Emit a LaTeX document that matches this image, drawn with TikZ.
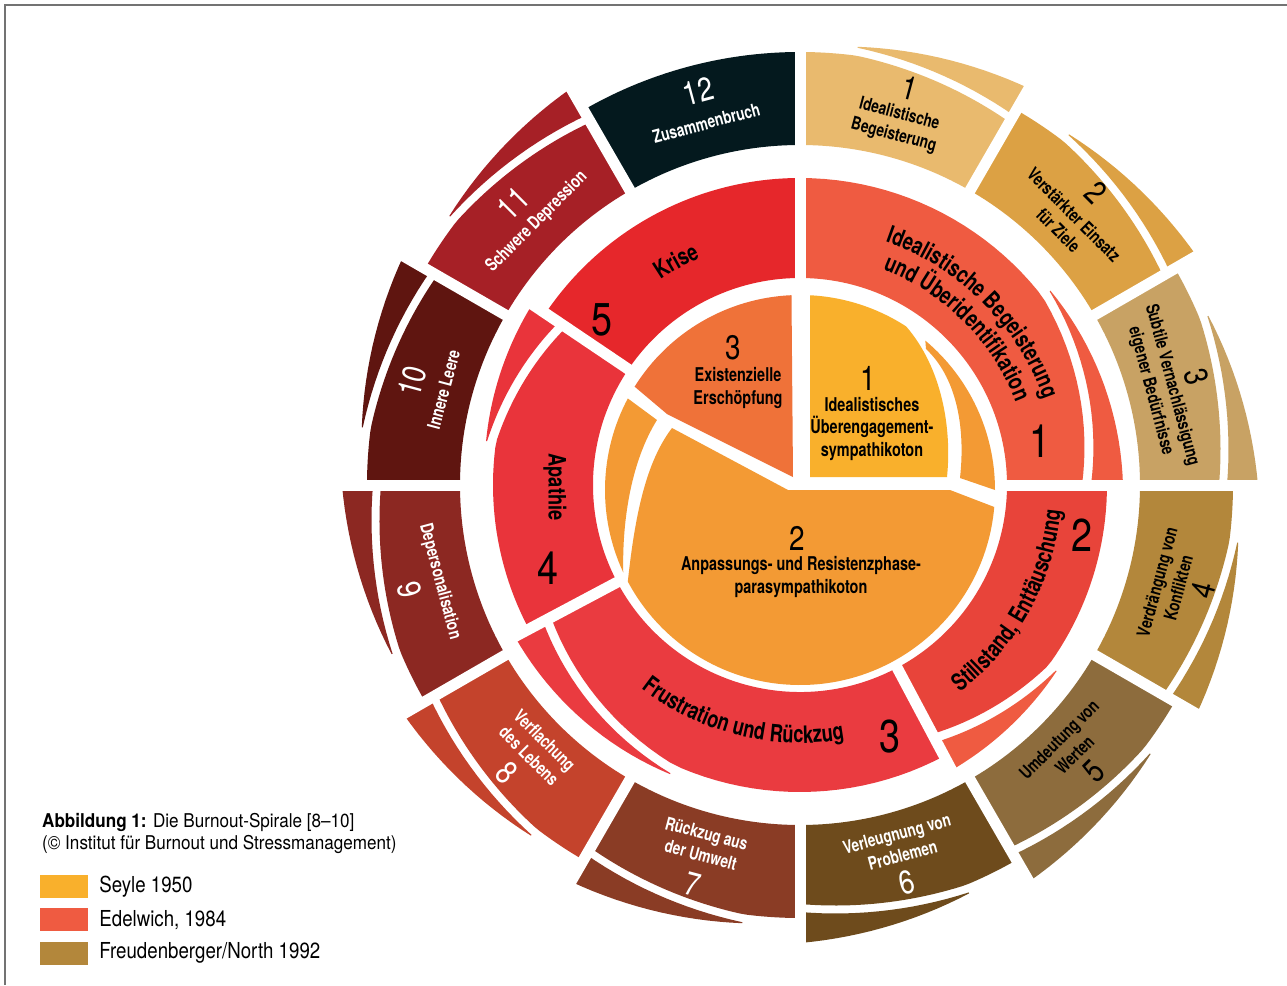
\documentclass[tikz,border=0pt]{standalone}
\usepackage{fontspec}
\setmainfont{TeX Gyre Heros}
\newfontfamily\condfont{TeX Gyre Heros}[FakeStretch=0.76]
\newfontfamily\numfont{TeX Gyre Heros}[FakeStretch=0.82]
\newfontfamily\legfont{TeX Gyre Heros}[FakeStretch=0.85]
\newfontfamily\captfont{TeX Gyre Heros}[FakeStretch=0.9]
\usetikzlibrary{positioning,decorations.text}

% Seyle
\definecolor{seyle1}{HTML}{F9B02C}
\definecolor{seyle2}{HTML}{F39A34}
\definecolor{seyle3}{HTML}{EF7239}
% Edelwich
\definecolor{edel1}{HTML}{EF5B41}
\definecolor{edel2}{HTML}{E8443A}
\definecolor{edel3}{HTML}{EA3B40}
\definecolor{edel4}{HTML}{E9343B}
\definecolor{edel5}{HTML}{E6272B}
% Freudenberger/North
\definecolor{fn1}{HTML}{E9BA6E}
\definecolor{fn2}{HTML}{DCA144}
\definecolor{fn3}{HTML}{C8A264}
\definecolor{fn4}{HTML}{B3873B}
\definecolor{fn5}{HTML}{8D6C3D}
\definecolor{fn6}{HTML}{6E4B1C}
\definecolor{fn7}{HTML}{8A3C25}
\definecolor{fn8}{HTML}{C4432C}
\definecolor{fn9}{HTML}{8C2822}
\definecolor{fn10}{HTML}{5F1510}
\definecolor{fn11}{HTML}{A62026}
\definecolor{fn12}{HTML}{04191E}

\newcommand{\midfont}{\condfont\bfseries\fontsize{24}{24}\selectfont}

\begin{document}
\begin{tikzpicture}[x=1pt,y=1pt,
  segtext/.style={font=\condfont\bfseries\fontsize{18}{22}\selectfont,align=center,inner sep=0pt},
  segnum/.style={font=\numfont\fontsize{33}{33}\selectfont,inner sep=0pt},
  midnum/.style={font=\numfont\fontsize{46}{46}\selectfont,inner sep=0pt},
  midtext/.style={font=\midfont,inner sep=0pt},
  innum/.style={font=\numfont\fontsize{34}{34}\selectfont,inner sep=0pt},
  intext/.style={font=\condfont\bfseries\fontsize{19}{22.5}\selectfont,align=center,inner sep=0pt},
  legsq/.style={minimum width=48pt,minimum height=23pt,inner sep=0pt},
  legtext/.style={font=\legfont\fontsize{22}{22}\selectfont,inner sep=0pt,anchor=west},
  capttext/.style={font=\captfont\fontsize{19}{19}\selectfont,inner sep=0pt,anchor=base west},
  bendtext/.style={decorate,decoration={text along path,text align=center,text={|\midfont|#1}}}]
\newcommand{\outerseg}[3]{% start angle, colour, tail
  \pgfmathsetmacro{\segend}{#1-30}
  \pgfmathsetmacro{\segtail}{#1-7.5}
  \fill[#2] plot[domain=#1:\segend,samples=31]
      (\x:{433-14*#3*max(0,min(1,(\segtail-\x)/22.5))})
    -- (\segend:340) arc[start angle=\segend,end angle=#1,radius=340] -- cycle;
  \ifnum#3=1
  \fill[#2] plot[domain=\segtail:\segend,samples=16] (\x:{441-14*(\segtail-\x)/22.5})
    -- plot[domain=\segend:\segtail,samples=16] (\x:{442+16*(\segtail-\x)/22.5}) -- cycle;
  \fi}
\newcommand{\midseg}[4]{% start, end, colour, tail colour
  \pgfmathsetmacro{\segtail}{#2+0.42*(#1-#2)}
  \pgfmathsetmacro{\seglen}{0.42*(#1-#2)}
  \fill[#3] plot[domain=#1:#2,samples=40]
      (\x:{307-25*max(0,min(1,(\segtail-\x)/\seglen))})
    -- (#2:207) arc[start angle=#2,end angle=#1,radius=207] -- cycle;
  \fill[#4] plot[domain=\segtail:#2,samples=20] (\x:{316-25*(\segtail-\x)/\seglen})
    -- plot[domain=#2:\segtail,samples=20] (\x:{317+6*(\segtail-\x)/\seglen}) -- cycle;}

  \useasboundingbox (-800,-500) rectangle (487,485);
  \fill[white] (-800,-500) rectangle (487,485);

  % Frame
  \draw[black!55,line width=1.2] (-795,-500) -- (-795,480) -- (487,480);

  % Outer ring (Freudenberger/North)
  \outerseg{90}{fn1}{1}
  \outerseg{60}{fn2}{1}
  \outerseg{30}{fn3}{1}
  \outerseg{0}{fn4}{1}
  \outerseg{-30}{fn5}{1}
  \outerseg{-60}{fn6}{1}
  \outerseg{-90}{fn7}{1}
  \outerseg{-120}{fn8}{1}
  \outerseg{-150}{fn9}{1}
  \outerseg{-180}{fn10}{1}
  \outerseg{-210}{fn11}{1}
  \outerseg{-240}{fn12}{0}
  \foreach \a in {90,60,...,-240}
    \draw[white,line width=11] (\a:330) -- (\a:478);

  % Middle ring (Edelwich)
  \midseg{90}{0}{edel1}{edel1}
  \midseg{0}{-62}{edel2}{edel1}
  \midseg{-62}{-152}{edel3}{edel3}
  \midseg{-152}{-214}{edel4}{edel4}
  \fill[edel5] (146:207) arc[start angle=146,end angle=90,radius=207]
    -- (90:307) arc[start angle=90,end angle=146,radius=307] -- cycle;
  \foreach \a in {90,0,-62,-152,146}
    \draw[white,line width=11] (\a:198) -- (\a:334);

  % Inner disk (Seyle)
  \begin{scope}[shift={(0,-5)}]
    \fill[seyle1] (10,13) -- (87:195) arc[start angle=87,end angle=57,radius=195]
      .. controls (142,122) and (152,62) .. (147,13) -- cycle;
    \fill[seyle2] (50:195) arc[start angle=50,end angle=0,radius=195] -- (160,12)
      .. controls (166,66) and (155,114) .. (126,141) -- cycle;
    \fill[seyle2] (-12,0) -- (150,0) -- (-5:195) arc[start angle=-5,end angle=-152,radius=195]
      .. controls (-165,-25) and (-154,28) .. (-128,62) -- cycle;
    \fill[seyle2] (152:195) arc[start angle=152,end angle=205,radius=195]
      .. controls (-178,-28) and (-168,30) .. (-143,70) -- cycle;
    \fill[seyle3] (-7,13) -- (-133,76) -- (148:195) arc[start angle=148,end angle=92.5,radius=195] -- cycle;
  \end{scope}

  % Inner labels
  \node[innum] (i1num) at (68,107) {1};
  \node[intext] (i1txt) at (72,56) {Idealistisches\\Überengagement-\\sympathikoton};
  \node[innum] (i3num) at (-67,137) {3};
  \node[intext] (i3txt) at (-62,97) {Existenzielle\\Erschöpfung};
  \node[innum] (i2num) at (-3,-53) {2};
  \node[intext] (i2txt) at (1,-92) {Anpassungs- und Resistenzphase-\\parasympathikoton};

  % Middle labels
  \path[bendtext={Idealistische Begeisterung}] (88:258) arc[start angle=88,end angle=2,radius=258];
  \path[bendtext={und Überidentifikation}] (88:231) arc[start angle=88,end angle=2,radius=231];
  \path[bendtext={Stillstand, Enttäuschung}] (-58:262) arc[start angle=-58,end angle=0,radius=262];
  \path[bendtext={Frustration und Rückzug}] (-150:258) arc[start angle=-150,end angle=-58,radius=258];
  \path[bendtext={Krise}] (150:248) arc[start angle=150,end angle=88,radius=248];
  \node[midtext,rotate=-90] (apathie) at (-245,-2) {Apathie};
  \node[midnum] (m1) at (240,44) {1};
  \node[midnum] (m2) at (282,-50) {2};
  \node[midnum] (m3) at (90,-252) {3};
  \node[midnum] (m4) at (-252,-83) {4};
  \node[midnum] (m5) at (-198,165) {5};

  % Outer labels
  \node[segnum,rotate=-15] (o1num) at (74.5:412) {1};
  \node[segtext,rotate=-15] (o1txt) at (75:373) {Idealistische\\Begeisterung};
  \node[segnum,rotate=-45] (o2num) at (44.6:416) {2};
  \node[segtext,rotate=-45] (o2txt) at (44.6:374) {Verstärkter Einsatz\\für Ziele};
  \node[segnum,rotate=-75] (o3num) at (15.3:411) {3};
  \node[segtext,rotate=-75] (o3txt) at (15:374) {Subtile Vernachlässigung\\eigener Bedürfnisse};
  \node[segtext,rotate=75] (o4txt) at (-15.2:381) {Verdrängung von\\Konflikten};
  \node[segnum,rotate=75] (o4num) at (-14.6:417) {4};
  \node[segtext,rotate=45] (o5txt) at (-44.5:374) {Umdeutung von\\Werten};
  \node[segnum,rotate=45] (o5num) at (-44.3:410) {5};
  \node[segtext,rotate=15,text=white] (o6txt) at (-74.5:373) {Verleugnung von\\Problemen};
  \node[segnum,rotate=15,text=white] (o6num) at (-75:411) {6};
  \node[segtext,rotate=-15,text=white] (o7txt) at (-105:372) {Rückzug aus\\der Umwelt};
  \node[segnum,rotate=-15,text=white] (o7num) at (-105:413) {7};
  \node[segtext,rotate=-45,text=white] (o8txt) at (-135:372) {Verflachung\\des Lebens};
  \node[segnum,rotate=-45,text=white] (o8num) at (-135.5:411) {8};
  \node[segtext,rotate=-75,text=white] (o9txt) at (-165:373) {Depersonalisation};
  \node[segnum,rotate=-75,text=white] (o9num) at (-165:404) {9};
  \node[segnum,rotate=75,text=white] (o10num) at (165:401) {10};
  \node[segtext,rotate=75,text=white] (o10txt) at (165:369) {Innere Leere};
  \node[segnum,rotate=45,text=white] (o11num) at (135.5:402) {11};
  \node[segtext,rotate=45,text=white] (o11txt) at (135:372) {Schwere Depression};
  \node[segnum,rotate=15,text=white] (o12num) at (104.5:407) {12};
  \node[segtext,rotate=15,text=white] (o12txt) at (104.5:374) {Zusammenbruch};

  % Caption
  \node[capttext] (capt1) at (-758,-342) {\textbf{Abbildung 1:} Die Burnout-Spirale [8–10]};
  \node[capttext] (capt2) at (-758,-364) {(© Institut für Burnout und Stressmanagement)};

  % Legend
  \node[legsq,fill=seyle1] (sq1) at (-736,-401.5) {};
  \node[legsq,fill=edel1,below=10pt of sq1] (sq2) {};
  \node[legsq,fill=fn4,below=10pt of sq2] (sq3) {};
  \node[legtext,right=11pt of sq1] (lab1) {Seyle 1950};
  \node[legtext,right=11pt of sq2] (lab2) {Edelwich, 1984};
  \node[legtext,right=11pt of sq3] (lab3) {Freudenberger/North 1992};
\end{tikzpicture}
\end{document}
